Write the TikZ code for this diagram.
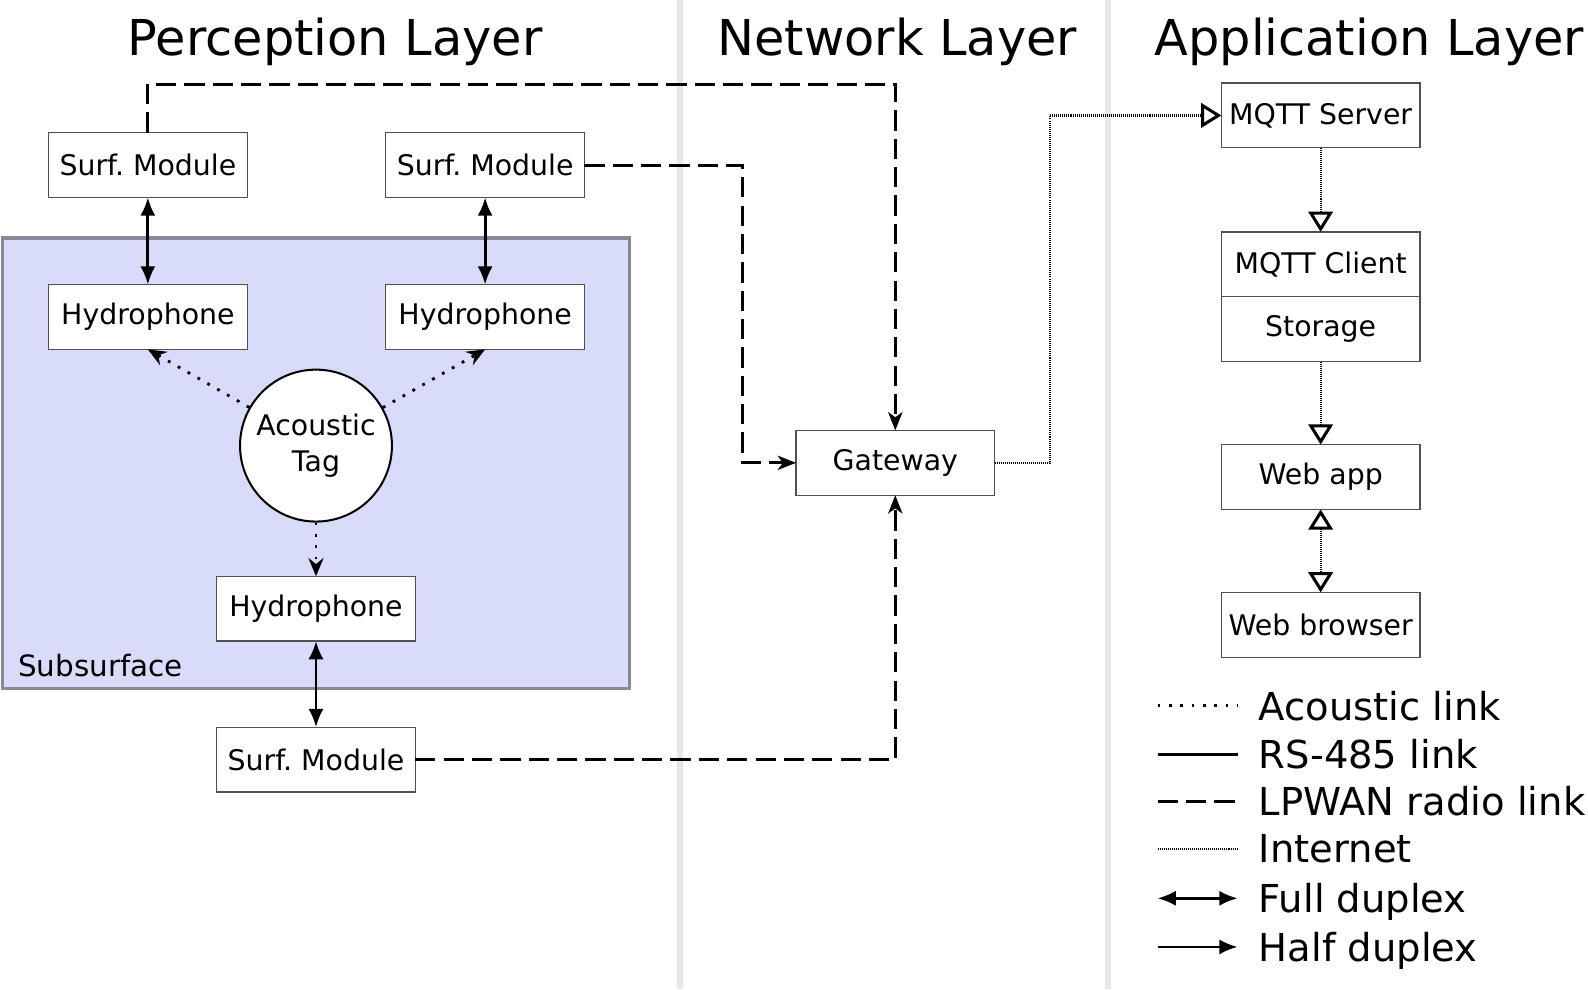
\documentclass[tikz,border=0pt]{standalone}
\usepackage{fontspec}
\setmainfont{DejaVu Sans}
\usepackage{tikz}
\usetikzlibrary{arrows.meta, positioning}
\definecolor{colorSubsurface}{RGB}{217,219,251}
\definecolor{colorSubsurfaceBorder}{RGB}{136,136,150}
\definecolor{colorSeparator}{RGB}{232,232,232}
\definecolor{colorBox}{RGB}{80,80,80}
\tikzset{
  acoustictip/.tip={Stealth[length=9pt, width=7.5pt, inset=3pt]},
  radiotip/.tip={Stealth[length=9pt, width=7pt, inset=2.5pt]},
  nettip/.tip={Triangle[open, length=10pt, width=12pt, line width=1.5pt]},
  box/.style={draw=colorBox, line width=0.6pt, fill=white, minimum width=98pt, minimum height=32pt, inner sep=0pt, outer sep=0pt, font=\fontsize{14}{17}\selectfont},
  tag/.style={circle, draw, line width=1pt, fill=white, minimum size=75pt, inner sep=0pt, align=center, font=\fontsize{14}{17.5}\selectfont},
  rs485/.style={line width=1.4pt},
  acoustic/.style={line width=1.4pt, dash pattern=on 1.4pt off 4.2pt},
  lpwan/.style={line width=1.5pt, dash pattern=on 10pt off 4pt},
  internet/.style={line width=1.1pt, dash pattern=on 0.5pt off 0.5pt},
  separator/.style={draw=colorSeparator, line width=3pt},
  subsurface/.style={fill=colorSubsurface, draw=colorSubsurfaceBorder, line width=1.5pt},
  title/.style={anchor=base, font=\fontsize{24.4}{28}\selectfont},
  legend/.style={anchor=base west, font=\fontsize{19}{22}\selectfont}
}
\frenchspacing
\begin{document}
\begin{tikzpicture}[x=0.5pt, y=-0.5pt, node distance=43pt, >={Latex[length=9pt, width=7.5pt]}]
\useasboundingbox[fill=white] (0,0) rectangle (1568,977);
\draw[separator] (671,0) -- (671,977);
\draw[separator] (1094,0) -- (1094,977);
\node[title] (tperc) at (331,55) {Perception Layer};
\node[title] (tnet) at (886,55) {Network Layer};
\node[title] (tapp) at (1352,55) {Application Layer};
\draw[subsurface] (2,235) rectangle (622,680);
\node[anchor=base west, font=\fontsize{14.5}{17}\selectfont] (lsub) at (11,668) {Subsurface};
\node[box] (sm1) at (146,163) {Surf. Module};
\node[box] (sm2) at (479,163) {Surf. Module};
\node[box, below=of sm1] (h1) {Hydrophone};
\node[box, below=of sm2] (h2) {Hydrophone};
\node[tag] (tag) at (312,440) {Acoustic\\Tag};
\node[box] (h3) at (312,601) {Hydrophone};
\node[box, below=42.5pt of h3] (sm3) {Surf. Module};
\node[box] (gw) at (884,457) {Gateway};
\node[box] (mqs) at (1304,114) {MQTT Server};
\node[box, below=41.5pt of mqs] (mqc) {MQTT Client};
\node[box, below=0pt of mqc] (sto) {Storage};
\node[box, below=41pt of sto] (web) {Web app};
\node[box, below=41pt of web] (brw) {Web browser};
\draw[rs485, <->] (sm1) -- (h1);
\draw[rs485, <->] (sm2) -- (h2);
\draw[rs485, <->] (h3) -- (sm3);
\draw[acoustic, -acoustictip] (tag) -- (h1.south);
\draw[acoustic, -acoustictip] (tag) -- (h2.south);
\draw[acoustic, -acoustictip] (tag) -- (h3);
\draw[lpwan, -radiotip] (sm1.north) -- ++(0,-48) -| (gw.north);
\draw[lpwan, -radiotip] (sm2.east) -- ++(156,0) |- (gw.west);
\draw[lpwan, -radiotip] (sm3.east) -| (gw.south);
\draw[internet, -nettip] (gw.east) -- ++(55,0) |- (mqs.west);
\draw[internet, -nettip] (mqs) -- (mqc);
\draw[internet, -nettip] (sto) -- (web);
\draw[internet, nettip-nettip] (web) -- (brw);
\node[legend] (lgac) at (1236,711) {Acoustic link};
\node[legend] (lgrs) at (1236,759) {RS-485 link};
\node[legend] (lglp) at (1236,805) {LPWAN radio link};
\node[legend] (lgin) at (1236,852) {Internet};
\node[legend] (lgfd) at (1236,901) {Full duplex};
\node[legend] (lghd) at (1236,949) {Half duplex};
\draw[acoustic] (1143,697) -- (1222,697);
\draw[rs485] (1143,745) -- (1222,745);
\draw[lpwan] (1143,791) -- (1222,791);
\draw[internet] (1143,838) -- (1222,838);
\draw[rs485, <->] (1143,887) -- (1222,887);
\draw[rs485, ->] (1143,935) -- (1222,935);
\end{tikzpicture}
\end{document}
